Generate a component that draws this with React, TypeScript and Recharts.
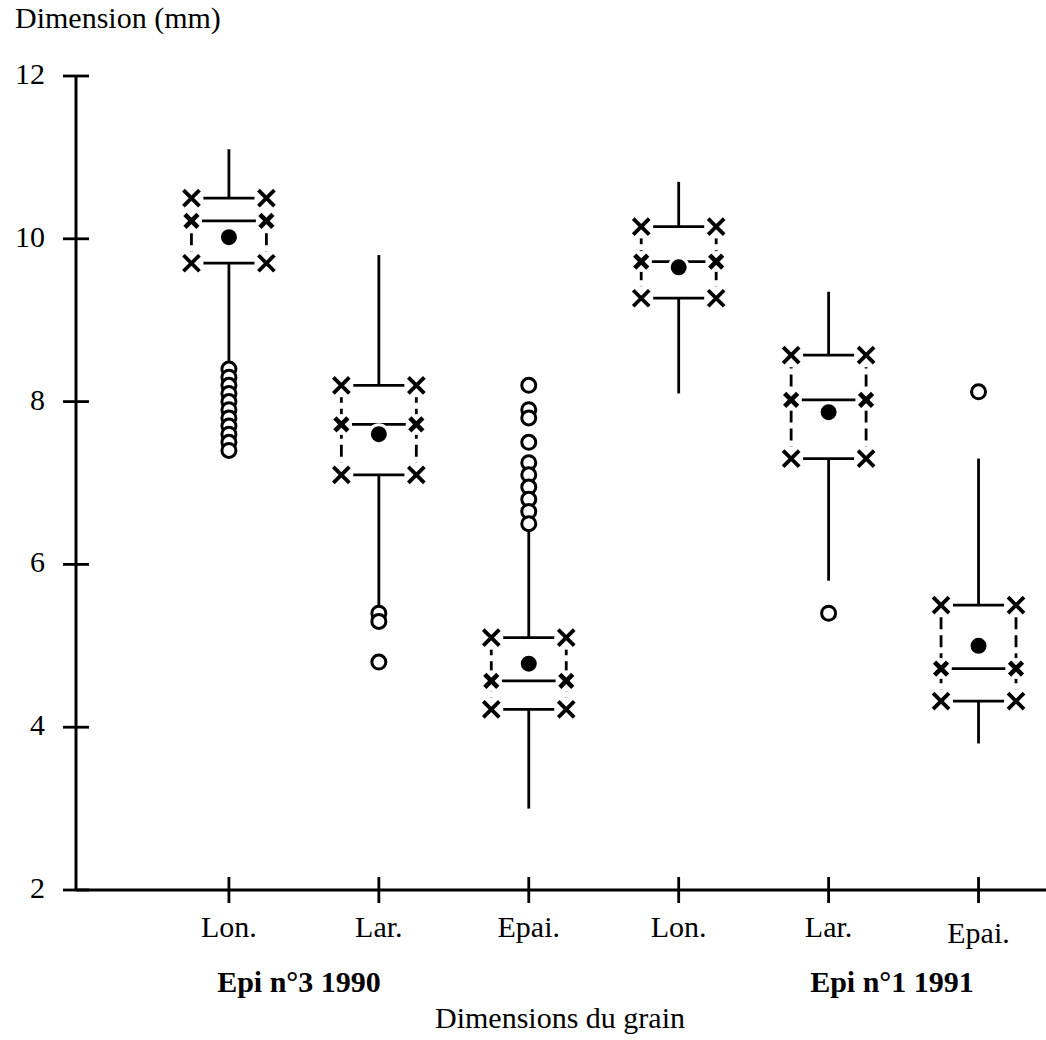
import React from 'react'
import { ComposedChart, Scatter, XAxis, YAxis, ReferenceLine } from 'recharts'

// grain dimensions (mm)
const categories = ['Lon.', 'Lar.', 'Epai.', 'Lon.', 'Lar.', 'Epai.']
const whiskerHigh = [11.1, 9.8, 6.5, 10.7, 9.35, 7.3]
const q3 = [10.5, 8.2, 5.1, 10.15, 8.57, 5.5]
const median = [10.22, 7.72, 4.57, 9.72, 8.02, 4.72]
const q1 = [9.7, 7.1, 4.22, 9.27, 7.3, 4.32]
const whiskerLow = [8.4, 5.4, 3.0, 8.1, 5.8, 3.8]
const mean = [10.02, 7.6, 4.78, 9.65, 7.87, 5.0]
const outliers = [
  [8.4, 8.3, 8.2, 8.1, 8.0, 7.9, 7.8, 7.7, 7.6, 7.5, 7.4],
  [5.4, 5.3, 4.8],
  [8.2, 7.9, 7.8, 7.5, 7.25, 7.1, 6.95, 6.8, 6.65, 6.5],
  [],
  [5.4],
  [8.12],
]
const yTicks = [2, 4, 6, 8, 10, 12]
const groupLabels = ['Epi n°3 1990', 'Epi n°1 1991']

const FONT = '"Liberation Serif", "Times New Roman", serif'
const HALF_BOX = 0.25
const HALF_LINE = 0.18
const LW = 2.8

const pos = (i: number) => i + 1

const cornerPts = categories.flatMap((_, i) =>
  [q1[i], q3[i]].flatMap(v => [
    { x: pos(i) - HALF_BOX, y: v },
    { x: pos(i) + HALF_BOX, y: v },
  ])
)
const midPts = categories.flatMap((_, i) => [
  { x: pos(i) - HALF_BOX, y: median[i] },
  { x: pos(i) + HALF_BOX, y: median[i] },
])
const meanPts = mean.map((v, i) => ({ x: pos(i), y: v }))
const outlierPts = outliers.flatMap((list, i) => list.map(v => ({ x: pos(i), y: v })))

const XMark = (props: any) => {
  const { cx, cy, size = 8, sw = 3.8 } = props
  return (
    <g>
      <circle cx={cx} cy={cy} r={size + 4} fill="#fff" />
      <line x1={cx - size} y1={cy - size} x2={cx + size} y2={cy + size} stroke="#000" strokeWidth={sw} />
      <line x1={cx - size} y1={cy + size} x2={cx + size} y2={cy - size} stroke="#000" strokeWidth={sw} />
    </g>
  )
}

const YTick = (props: any) => {
  const { x, y, payload } = props
  return (
    <g>
      <line x1={x - 13} x2={x + 13} y1={y} y2={y} stroke="#000" strokeWidth={LW} />
      <text x={x - 31} y={y} dy={8} textAnchor="end" fontSize={30} fontFamily={FONT} fill="#000">
        {payload.value}
      </text>
    </g>
  )
}

const XTick = (props: any) => {
  const { x, y, payload } = props
  const label = categories[payload.value - 1]
  // the last label sits a little lower in the original print
  const drop = payload.value === 6 ? 6 : 0
  return (
    <g>
      <line x1={x} x2={x} y1={y - 13} y2={y + 13} stroke="#000" strokeWidth={LW} />
      <text x={x} y={y + 47 + drop} textAnchor="middle" fontSize={30} fontFamily={FONT} fill="#000">
        {label}
      </text>
    </g>
  )
}

export default function App() {
  return (
    <div style={{ position: 'absolute', left: 0, top: 0, width: 1046, height: 1040, background: '#fff' }}>
      <ComposedChart width={1046} height={1040} margin={{ top: 76, right: 0, bottom: 0, left: 0 }}>
        <XAxis
          type="number"
          dataKey="x"
          domain={[-0.02, 6.45]}
          ticks={[1, 2, 3, 4, 5, 6]}
          allowDataOverflow
          height={150}
          tickSize={0}
          tickMargin={0}
          tickLine={false}
          axisLine={{ stroke: '#000', strokeWidth: 3 }}
          tick={<XTick />}
        />
        <YAxis
          type="number"
          dataKey="y"
          domain={[2, 12]}
          ticks={yTicks}
          allowDataOverflow
          width={76}
          tickSize={0}
          tickMargin={0}
          tickLine={false}
          axisLine={{ stroke: '#000', strokeWidth: 3 }}
          tick={<YTick />}
        />

        {/* whiskers */}
        {categories.map((_, i) => (
          <ReferenceLine key={`wh${i}`} segment={[{ x: pos(i), y: q3[i] }, { x: pos(i), y: whiskerHigh[i] }]} stroke="#000" strokeWidth={LW} />
        ))}
        {categories.map((_, i) => (
          <ReferenceLine key={`wl${i}`} segment={[{ x: pos(i), y: whiskerLow[i] }, { x: pos(i), y: q1[i] }]} stroke="#000" strokeWidth={LW} />
        ))}

        {/* dashed box sides */}
        {categories.map((_, i) => (
          <ReferenceLine key={`sl${i}`} segment={[{ x: pos(i) - HALF_BOX, y: q1[i] }, { x: pos(i) - HALF_BOX, y: q3[i] }]} stroke="#000" strokeWidth={LW} strokeDasharray="12 6" />
        ))}
        {categories.map((_, i) => (
          <ReferenceLine key={`sr${i}`} segment={[{ x: pos(i) + HALF_BOX, y: q1[i] }, { x: pos(i) + HALF_BOX, y: q3[i] }]} stroke="#000" strokeWidth={LW} strokeDasharray="12 6" />
        ))}

        {/* quartile and median bars */}
        {categories.map((_, i) =>
          [q1[i], median[i], q3[i]].map((v, k) => (
            <ReferenceLine key={`h${i}-${k}`} segment={[{ x: pos(i) - HALF_LINE, y: v }, { x: pos(i) + HALF_LINE, y: v }]} stroke="#000" strokeWidth={LW} />
          ))
        )}

        <Scatter data={outlierPts} isAnimationActive={false}
          shape={(p: any) => <circle cx={p.cx} cy={p.cy} r={7} fill="#fff" stroke="#000" strokeWidth={3} />} />
        <Scatter data={cornerPts} isAnimationActive={false} shape={(p: any) => <XMark cx={p.cx} cy={p.cy} />} />
        <Scatter data={midPts} isAnimationActive={false} shape={(p: any) => <XMark cx={p.cx} cy={p.cy} size={6.5} sw={4.6} />} />
        <Scatter data={meanPts} isAnimationActive={false}
          shape={(p: any) => <circle cx={p.cx} cy={p.cy} r={9.5} fill="#000" stroke="#fff" strokeWidth={3} />} />
      </ComposedChart>

      <svg width={1046} height={1040} style={{ position: 'absolute', left: 0, top: 0, pointerEvents: 'none' }}>
        <text x={15} y={28} fontSize={30} fontFamily={FONT} fill="#000">Dimension (mm)</text>
        <text x={299} y={992} textAnchor="middle" fontSize={30} fontWeight="bold" fontFamily={FONT} fill="#000">{groupLabels[0]}</text>
        <text x={892} y={992} textAnchor="middle" fontSize={30} fontWeight="bold" fontFamily={FONT} fill="#000">{groupLabels[1]}</text>
        <text x={560} y={1028} textAnchor="middle" fontSize={30} fontFamily={FONT} fill="#000">Dimensions du grain</text>
      </svg>
    </div>
  )
}
